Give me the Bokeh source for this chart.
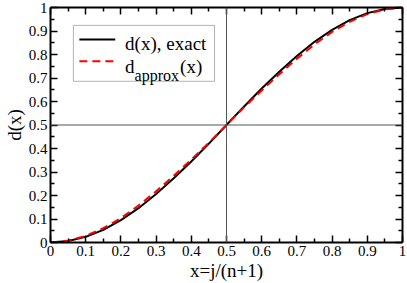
from bokeh.plotting import figure
from bokeh.models import (Range1d, LinearAxis, FixedTicker, Span, BoxAnnotation, Label,
                          CustomJSTickFormatter)
from bokeh.embed import file_html
from bokeh.resources import INLINE

# ---- data ----
x_vals = [0.0, 0.05, 0.1, 0.15, 0.2, 0.25, 0.3, 0.35, 0.4, 0.45, 0.5,
          0.55, 0.6, 0.65, 0.7, 0.75, 0.8, 0.85, 0.9, 0.95, 1.0]
d_exact = [0.0, 0.006, 0.024, 0.054, 0.095, 0.146, 0.206, 0.273, 0.345, 0.421, 0.5,
           0.579, 0.655, 0.727, 0.794, 0.854, 0.905, 0.946, 0.976, 0.994, 1.0]
d_approx = [0.0, 0.008, 0.028, 0.061, 0.104, 0.157, 0.218, 0.284, 0.353, 0.425, 0.5,
            0.575, 0.647, 0.716, 0.782, 0.843, 0.896, 0.939, 0.972, 0.992, 1.0]
major_ticks = [0, 0.1, 0.2, 0.3, 0.4, 0.5, 0.6, 0.7, 0.8, 0.9, 1]
minor_ticks = [0.05, 0.15, 0.25, 0.35, 0.45, 0.55, 0.65, 0.75, 0.85, 0.95]
tick_labels = ["0", "0.1", "0.2", "0.3", "0.4", "0.5", "0.6", "0.7", "0.8", "0.9", "1"]
ref_level = 0.5
legend_exact = "d(x), exact"

FONT = "'Liberation Serif', 'Times New Roman', serif"

p = figure(width=407, height=283, x_range=Range1d(0, 1), y_range=Range1d(0, 1),
           output_backend="svg", toolbar_location=None,
           min_border_top=7, min_border_right=5, min_border_left=48, min_border_bottom=40)
p.background_fill_color = "white"
p.border_fill_color = "white"
p.outline_line_color = None
p.xgrid.visible = False
p.ygrid.visible = False

ticker = FixedTicker(ticks=major_ticks, minor_ticks=minor_ticks)
fmt = CustomJSTickFormatter(args=dict(tvals=major_ticks, labs=tick_labels), code="""
    let best = 0, bd = Infinity;
    for (let i = 0; i < tvals.length; i++) {
        const d = Math.abs(tvals[i] - tick);
        if (d < bd) { bd = d; best = i; }
    }
    return labs[best];
""")

def style_axis(ax, show_labels):
    ax.ticker = ticker
    ax.axis_line_color = "black"
    ax.axis_line_width = 2
    ax.major_tick_in = 7
    ax.major_tick_out = 0
    ax.minor_tick_in = 4
    ax.minor_tick_out = 0
    ax.major_tick_line_color = "black"
    ax.minor_tick_line_color = "black"
    ax.major_tick_line_width = 1.5
    ax.minor_tick_line_width = 1.5
    if show_labels:
        ax.formatter = fmt
        ax.major_label_text_font = FONT
        ax.major_label_text_font_size = "15px"
        ax.major_label_text_color = "black"
        ax.major_label_standoff = 3
        ax.axis_label_text_font = FONT
        ax.axis_label_text_font_size = "19px"
        ax.axis_label_text_font_style = "normal"
        ax.axis_label_text_color = "black"
        ax.axis_label_standoff = 1
    else:
        ax.major_label_text_font_size = "0px"
        ax.major_label_text_color = None
        ax.major_label_standoff = 0
        ax.axis_label_standoff = 0

style_axis(p.xaxis[0], True)
style_axis(p.yaxis[0], True)
p.xaxis[0].axis_label = "x=j/(n+1)"
p.yaxis[0].axis_label = "d(x)"

top_ax = LinearAxis()
right_ax = LinearAxis()
style_axis(top_ax, False)
style_axis(right_ax, False)
p.add_layout(top_ax, "above")
p.add_layout(right_ax, "right")

# reference lines
p.add_layout(Span(location=ref_level, dimension="width", line_color="#555555", line_width=1))
p.add_layout(Span(location=ref_level, dimension="height", line_color="#555555", line_width=1))

# curves
p.line(x_vals, d_exact, line_color="black", line_width=2)
p.line(x_vals, d_approx, line_color="red", line_width=2, line_dash="8 5")

# hand-made legend (layout positions in frame fractions)
p.add_layout(BoxAnnotation(left=0.065, right=0.466, bottom=0.686, top=0.924,
                           fill_color="white", fill_alpha=1.0, level="underlay",
                           line_color="black", line_width=1))
p.line([0.082, 0.184], [0.864, 0.864], line_color="black", line_width=2)
p.line([0.082, 0.184], [0.771, 0.771], line_color="red", line_width=2, line_dash="8 5")

p.add_layout(Label(x=0.212, y=0.846, text=legend_exact, text_font=FONT,
                   text_font_size="19px", text_baseline="alphabetic", text_color="black"))
p.add_layout(Label(x=0.212, y=0.747, text="d", text_font=FONT,
                   text_font_size="19px", text_baseline="alphabetic", text_color="black"))
p.add_layout(Label(x=0.212, y=0.712, x_offset=9.5, text="approx", text_font=FONT,
                   text_font_size="16px", text_baseline="alphabetic", text_color="black"))
p.add_layout(Label(x=0.212, y=0.747, x_offset=55, text="(x)", text_font=FONT,
                   text_font_size="19px", text_baseline="alphabetic", text_color="black"))

open("out.html", "w").write(file_html(p, INLINE))
